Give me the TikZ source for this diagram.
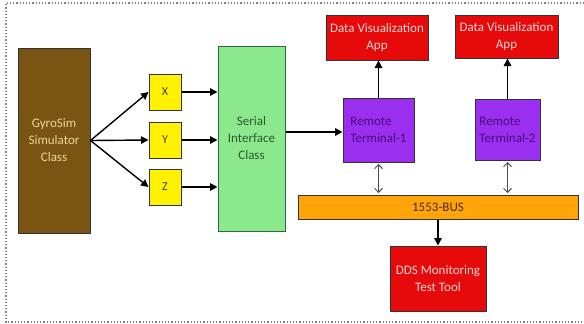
\documentclass[tikz,border=0pt]{standalone}
\usepackage{fontspec}
\setmainfont{Carlito}
\usetikzlibrary{arrows.meta}
\definecolor{gyrobrown}{HTML}{7A5412}
\definecolor{gyrotext}{HTML}{EAD7A0}
\definecolor{serialgreen}{HTML}{8CE88C}
\definecolor{serialedge}{HTML}{2E6A3A}
\definecolor{serialtext}{HTML}{2E5A2E}
\definecolor{appred}{HTML}{E60A0A}
\definecolor{apptext}{HTML}{FFD6D6}
\definecolor{rtpurple}{HTML}{9B2FF0}
\definecolor{rttext}{HTML}{4A0C7C}
\definecolor{busorange}{HTML}{FFA50A}
\definecolor{bustext}{HTML}{4A2A00}

\begin{document}
\begin{tikzpicture}[x=1pt,y=-1pt,
    blk/.style={draw=black!80,line width=1pt,inner sep=1pt,align=center,
      font=\fontsize{13}{17}\selectfont},
    flow/.style={-{Triangle[length=7.5pt,width=7.5pt]},line width=1.4pt},
    busflow/.style={{Straight Barb[length=4pt,width=8pt]}-{Straight Barb[length=4pt,width=8pt]},
      line width=1pt,draw=black!70,shorten <=1.5pt,shorten >=1.5pt}]
  \useasboundingbox (0,0) rectangle (584,324);
  % Outer dotted frame (open on the right)
  \draw[dotted,line width=1.2pt,gray] (584,3) -- (6,3) -- (6,322) -- (584,322);
  % Simulator and serial interface
  \node[blk,fill=gyrobrown,text=gyrotext,minimum width=72pt,minimum height=185pt] (gyro) at (54,140.5) {GyroSim\\Simulator\\Class};
  \node[blk,fill=serialgreen,draw=serialedge,text=serialtext,minimum width=67pt,minimum height=185pt] (serial) at (251.5,138.5) {Serial\\Interface\\Class};
  % Axis boxes
  \foreach \n/\y in {X/92,Y/140,Z/187}{
    \node[blk,fill=yellow,text=black!75,minimum width=32pt,minimum height=36pt,font=\fontsize{12}{14}\selectfont] (\n) at (165,\y) {\n};
    \draw[flow] (gyro.east) -- (\n.west);
    \draw[flow] (\n.east) -- (\n.east -| serial.west);}
  % Remote terminals and apps
  \node[blk,fill=rtpurple,text=rttext,minimum width=71pt,minimum height=64pt,align=left] (rt1) at (378.5,130) {Remote\\Terminal-1};
  \node[blk,fill=rtpurple,text=rttext,minimum width=65pt,minimum height=61pt,align=left] (rt2) at (507.5,129.5) {Remote\\Terminal-2};
  \node[blk,fill=appred,text=apptext,minimum width=102pt,minimum height=45pt] (app1) at (377,37.5) {Data Visualization\\App};
  \node[blk,fill=appred,text=apptext,minimum width=103pt,minimum height=43pt] (app2) at (506.5,36.5) {Data Visualization\\App};
  % Bus and monitoring tool
  \node[blk,fill=busorange,text=bustext,minimum width=280pt,minimum height=24pt] (bus) at (438,207) {1553-BUS};
  \node[blk,fill=appred,text=apptext,minimum width=96pt,minimum height=65pt] (dds) at (438,278.5) {DDS Monitoring\\Test Tool};
  % Connectors
  \draw[flow] (serial.east |- 0,132) -- (rt1.west |- 0,132);
  \draw[flow] (rt1.north) -- (rt1.north |- app1.south);
  \draw[flow] (rt2.north) -- (rt2.north |- app2.south);
  \draw[busflow] (rt1.south) -- (rt1.south |- bus.north);
  \draw[busflow] (rt2.south) -- (rt2.south |- bus.north);
  \draw[flow] (bus.south) -- (dds.north);
\end{tikzpicture}
\end{document}
